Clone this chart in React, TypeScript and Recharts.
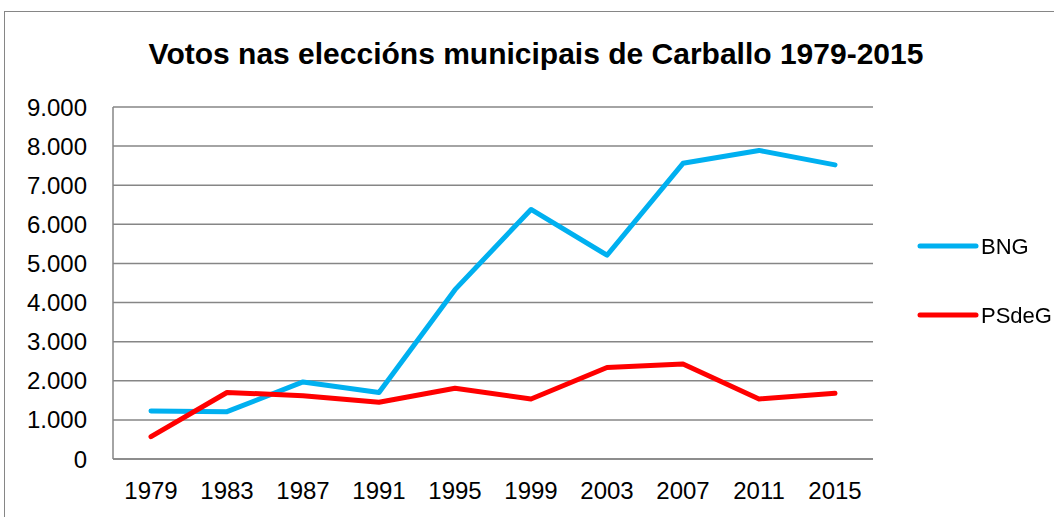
import React from 'react';
import { LineChart, Line, XAxis, YAxis, CartesianGrid, Legend } from 'recharts';

const years = ['1979', '1983', '1987', '1991', '1995', '1999', '2003', '2007', '2011', '2015'];
const bng = [1230, 1210, 1970, 1700, 4330, 6380, 5210, 7560, 7890, 7520];
const psdeg = [570, 1700, 1620, 1450, 1810, 1535, 2340, 2430, 1535, 1680];
const yTicks = [0, 1000, 2000, 3000, 4000, 5000, 6000, 7000, 8000, 9000];
const title = 'Votos nas eleccións municipais de Carballo 1979-2015';

const data = years.map((y, i) => ({ year: y, BNG: bng[i], PSdeG: psdeg[i] }));

const FONT = '"Liberation Sans", Arial, sans-serif';
const GRID = '#868686';

const fmt = (n: number) => String(n).replace(/\B(?=(\d{3})+(?!\d))/g, '.');

const LegendContent = (props: any) => {
  const payload = props.payload || [];
  return (
    <div style={{ position: 'fixed', left: 915, top: 225, width: 140, height: 110 }}>
      <svg width={140} height={110}>
        {payload.map((p: any, i: number) => (
          <g key={p.value} transform={`translate(0, ${21 + i * 69})`}>
            <line x1={5} x2={61} y1={0} y2={0} stroke={p.color} strokeWidth={5} strokeLinecap="round" />
            <text x={66} y={0} dy="0.35em" fontSize={22} fontFamily={FONT} fill="#000">{p.value}</text>
          </g>
        ))}
      </svg>
    </div>
  );
};

export default function App() {
  return (
    <div style={{ position: 'absolute', left: 0, top: 0, width: 1054, height: 517, overflow: 'hidden', background: '#fff' }}>
      <div style={{ position: 'absolute', left: 4, top: 11, width: 1070, height: 530, border: `1.5px solid ${GRID}` }} />
      <div style={{ position: 'absolute', left: 0, top: 34, width: 1072, textAlign: 'center', fontFamily: FONT, fontWeight: 'bold', fontSize: 30, lineHeight: '40px', color: '#000' }}>
        {title}
      </div>
      <div style={{ position: 'absolute', left: 0, top: 0 }}>
        <LineChart width={1054} height={517} data={data} margin={{ top: 107, right: 181, bottom: 18, left: 13 }}>
          <CartesianGrid vertical={false} stroke={GRID} strokeWidth={1.5} />
          <XAxis
            dataKey="year"
            padding={{ left: 38, right: 38 }}
            axisLine={{ stroke: GRID, strokeWidth: 1.5 }}
            tickLine={false}
            tickSize={0}
            tickMargin={23}
            height={40}
            interval={0}
            tick={{ fill: '#000', fontSize: 24, fontFamily: FONT }}
          />
          <YAxis
            width={100}
            domain={[0, 9000]}
            ticks={yTicks}
            tickFormatter={fmt}
            axisLine={{ stroke: GRID, strokeWidth: 1.5 }}
            tickLine={false}
            tickSize={0}
            tickMargin={26}
            interval={0}
            tick={{ fill: '#000', fontSize: 24, fontFamily: FONT }}
          />
          <Legend
            layout="vertical"
            align="right"
            verticalAlign="middle"
            content={<LegendContent />}
            wrapperStyle={{ width: 0, height: 0 }}
          />
          <Line type="linear" dataKey="BNG" stroke="#00B0F0" strokeWidth={5} dot={false} strokeLinecap="round" strokeLinejoin="round" isAnimationActive={false} />
          <Line type="linear" dataKey="PSdeG" stroke="#FF0000" strokeWidth={5} dot={false} strokeLinecap="round" strokeLinejoin="round" isAnimationActive={false} />
        </LineChart>
      </div>
    </div>
  );
}
